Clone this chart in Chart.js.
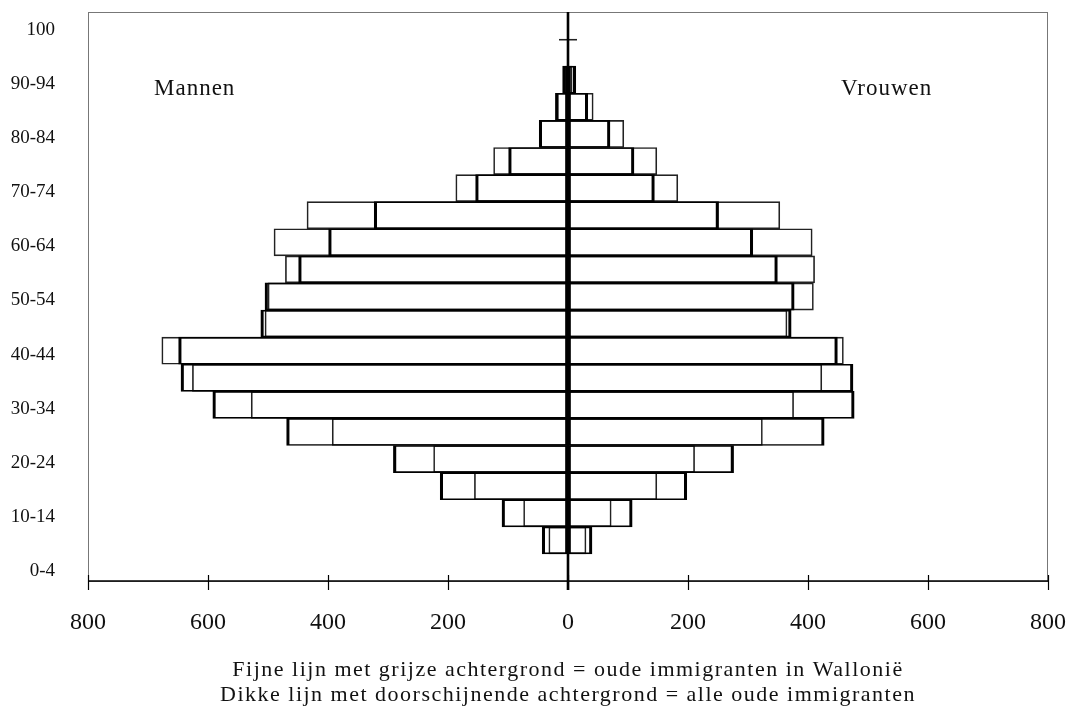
<!DOCTYPE html>
<html>
<head>
<meta charset="utf-8">
<script src="https://cdn.jsdelivr.net/npm/chart.js@4.4.0/dist/chart.umd.min.js"></script>
<style>
  html, body { margin: 0; padding: 0; background: #fff; }
  #wrap { width: 1071px; height: 707px; position: relative; }
</style>
</head>
<body>
<div id="wrap"><canvas id="pyramid"></canvas></div>
<script>
const ageGroups = ["0-4", "5-9", "10-14", "15-19", "20-24", "25-29", "30-34", "35-39", "40-44", "45-49",
  "50-54", "55-59", "60-64", "65-69", "70-74", "75-79", "80-84", "85-89", "90-94", "95-99", "100"];

// dikke lijn: alle oude immigranten
const allMen   = [0, 43, 110, 213, 291, 469, 592, 645, 649, 512, 505, 449, 399, 323, 154, 99, 48, 21, 9, 0, 0];
const allWomen = [0, 40, 107, 198, 276, 427, 477, 475, 449, 372, 377, 349, 308, 251, 144, 110, 70, 33, 13, 0, 0];

// fijne lijn: oude immigranten in Wallonië
const walMen   = [0, 32, 74, 156, 224, 393, 528, 626, 677, 505, 500, 471, 490, 435, 187, 124, 46, 18, 5, 15, 0];
const walWomen = [0, 30, 72, 148, 211, 324, 376, 423, 459, 365, 409, 411, 407, 353, 183, 148, 93, 42, 7, 15, 0];

const xTicks = [-800, -600, -400, -200, 0, 200, 400, 600, 800];
const captionLines = [
  "Fijne lijn met grijze achtergrond = oude immigranten in Wallonië",
  "Dikke lijn met doorschijnende achtergrond = alle oude immigranten"
];

const FONT = "'Liberation Serif', 'Times New Roman', serif";
const TOP_ROW = ageGroups.indexOf("95-99");

const thick = { top: 1, bottom: 1, left: 2.5, right: 2.5 };
const thinBorder = ctx => ctx.dataIndex === TOP_ROW ? { top: 1, bottom: 0, left: 0, right: 0 } : 1;

const noPad = s => { s.paddingTop = 0; s.paddingBottom = 0; s.paddingLeft = 0; s.paddingRight = 0; };

const decor = {
  id: "decor",
  afterDraw(chart) {
    const { ctx, chartArea: a, scales: { x, y } } = chart;
    ctx.save();
    // frame
    ctx.strokeStyle = "#777";
    ctx.lineWidth = 1;
    ctx.strokeRect(a.left + 0.5, a.top + 0.5, a.right - a.left - 1, a.bottom - a.top);
    // x axis
    ctx.strokeStyle = "#000";
    ctx.lineWidth = 1.5;
    ctx.beginPath();
    ctx.moveTo(a.left, a.bottom);
    ctx.lineTo(a.right, a.bottom);
    ctx.stroke();
    ctx.lineWidth = 1.2;
    xTicks.forEach(v => {
      const px = Math.round(x.getPixelForValue(v)) + 0.5;
      ctx.beginPath();
      ctx.moveTo(px, a.bottom - 6);
      ctx.lineTo(px, a.bottom + 9);
      ctx.stroke();
    });
    // centre line
    const zx = x.getPixelForValue(0);
    ctx.lineWidth = 2.6;
    ctx.beginPath();
    ctx.moveTo(zx, a.top);
    ctx.lineTo(zx, a.bottom + 9);
    ctx.stroke();
    // Mannen / Vrouwen
    ctx.fillStyle = "#111";
    ctx.font = "23px " + FONT;
    ctx.letterSpacing = "1px";
    ctx.textAlign = "left";
    ctx.textBaseline = "middle";
    const ly = y.getPixelForValue(ageGroups.indexOf("90-94")) + 9;
    ctx.fillText("Mannen", x.getPixelForValue(-690), ly);
    ctx.fillText("Vrouwen", x.getPixelForValue(455), ly);
    // caption
    ctx.font = "22px " + FONT;
    ctx.letterSpacing = "1.5px";
    ctx.textAlign = "center";
    ctx.textBaseline = "alphabetic";
    ctx.fillText(captionLines[0], zx, a.bottom + 95);
    ctx.fillText(captionLines[1], zx, a.bottom + 120);
    ctx.restore();
  }
};

new Chart(document.getElementById("pyramid"), {
  type: "bar",
  data: {
    labels: ageGroups,
    datasets: [
      { label: "Alle oude immigranten (mannen)", data: allMen.map(v => -v),
        borderColor: "#000", borderWidth: thick },
      { label: "Alle oude immigranten (vrouwen)", data: allWomen,
        borderColor: "#000", borderWidth: thick },
      { label: "Wallonië (mannen)", data: walMen.map(v => -v),
        borderColor: "#222", borderWidth: thinBorder },
      { label: "Wallonië (vrouwen)", data: walWomen,
        borderColor: "#222", borderWidth: thinBorder }
    ]
  },
  options: {
    indexAxis: "y",
    responsive: true,
    maintainAspectRatio: false,
    animation: false,
    datasets: {
      bar: {
        grouped: false,
        barPercentage: 1,
        categoryPercentage: 1,
        backgroundColor: "rgba(0,0,0,0)",
        borderSkipped: false
      }
    },
    layout: { padding: { top: 12, right: 23, left: 0, bottom: 61 } },
    plugins: {
      legend: { display: false },
      tooltip: { enabled: false },
      title: { display: false }
    },
    scales: {
      x: {
        min: -800,
        max: 800,
        grid: { display: false },
        border: { display: false },
        afterFit: s => { s.height = 65; noPad(s); },
        ticks: {
          stepSize: 200,
          padding: 19,
          color: "#111",
          font: { family: FONT, size: 24 },
          callback: v => Math.abs(v)
        }
      },
      y: {
        reverse: true,
        grid: { display: false },
        border: { display: false },
        afterFit: s => { s.width = 88; noPad(s); },
        ticks: {
          autoSkip: false,
          padding: 25,
          labelOffset: 4,
          color: "#111",
          font: { family: FONT, size: 19 },
          callback: (v, i) => (i % 2 === 0 ? ageGroups[i] : "")
        }
      }
    }
  },
  plugins: [decor]
});
</script>
</body>
</html>
